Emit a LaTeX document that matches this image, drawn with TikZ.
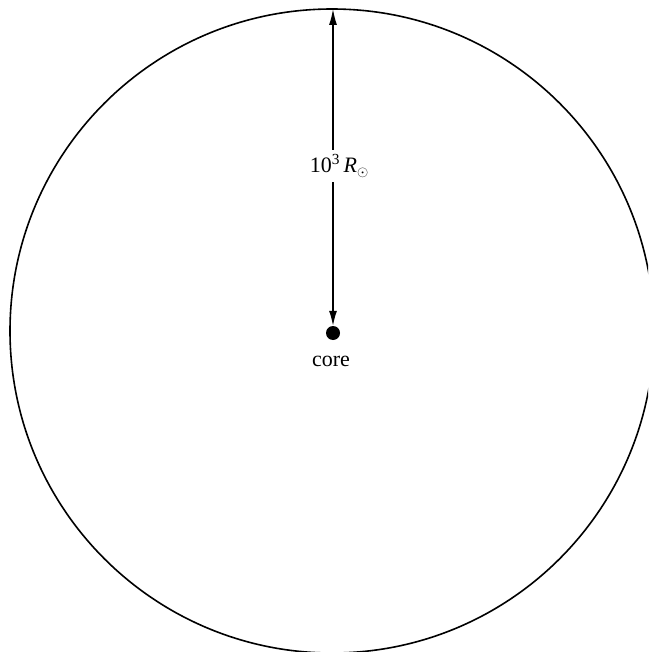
\documentclass[tikz,border=0pt]{standalone}
\usepackage{fontspec}
\setmainfont{Liberation Serif}
\usetikzlibrary{arrows.meta}
\begin{document}
\begin{tikzpicture}[x=1pt,y=-1pt,
  outline/.style={line width=1.6pt},
  radius arrow/.style={line width=1.3pt,{Latex[length=16pt,width=8pt]}-{Latex[length=15pt,width=8pt]}},
  coredot/.style={circle,fill=black,inner sep=0pt,minimum size=14pt},
  lbl/.style={font=\fontsize{22}{24}\selectfont,inner sep=0pt}]
\useasboundingbox (0,0) rectangle (648,652);
\clip (0,0) rectangle (648,652);
\draw[outline] (332,331) circle[radius=322];
\coordinate (top) at (333,9);
\node[coredot] (core) at (333,333) {};
\node[lbl] (corelabel) at (331,361) {core};
\draw[radius arrow] (top) -- (core.north);
\node[lbl,fill=white,inner ysep=5pt,inner xsep=2pt] (rlabel) at (339,166) {10\textsuperscript{3}\,\textit{R}\raisebox{-0.35ex}{$\scriptstyle\odot$}};
\end{tikzpicture}
\end{document}
